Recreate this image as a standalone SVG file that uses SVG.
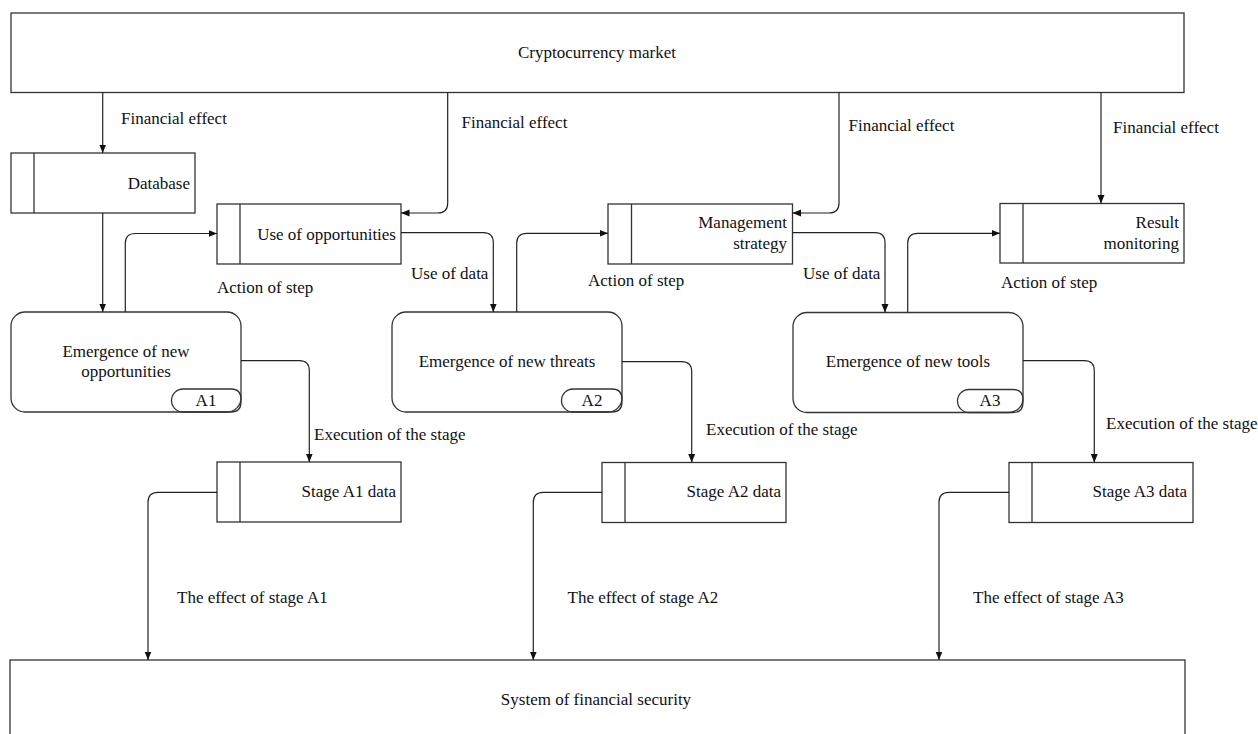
<svg xmlns="http://www.w3.org/2000/svg" width="1258" height="734" viewBox="0 0 1258 734">
<defs>
<marker id="arr" markerUnits="userSpaceOnUse" markerWidth="9" markerHeight="8" refX="8.5" refY="3.5" orient="auto">
<path d="M0,0 L8.5,3.5 L0,7 z" fill="#111"/>
</marker>
<style>
.box{fill:#fff;stroke:#333;stroke-width:1.3}
.div{stroke:#333;stroke-width:1.3;fill:none}
.t{font-family:"Liberation Serif","Times New Roman",serif;font-size:17px;fill:#111}
.r{text-anchor:end}
.c{text-anchor:middle}
.con{fill:none;stroke:#222;stroke-width:1.2;marker-end:url(#arr)}
.ln{fill:none;stroke:#222;stroke-width:1.2}
</style>
</defs>
<rect width="1258" height="734" fill="#fff"/>

<g id="market">
<rect class="box" x="11" y="13" width="1173" height="79.5"/>
<text class="t c" x="597" y="58">Cryptocurrency market</text>
</g>

<g id="database">
<rect class="box" x="11" y="153" width="184" height="60"/>
<line class="div" x1="34" y1="153" x2="34" y2="213"/>
<text class="t r" x="190" y="189">Database</text>
</g>

<g id="use-opportunities">
<rect class="box" x="217" y="204" width="184" height="60"/>
<line class="div" x1="240" y1="204" x2="240" y2="264"/>
<text class="t r" x="396" y="240">Use of opportunities</text>
</g>

<g id="management-strategy">
<rect class="box" x="608" y="204" width="184.5" height="60"/>
<line class="div" x1="631.5" y1="204" x2="631.5" y2="264"/>
<text class="t r" x="787" y="228">Management</text>
<text class="t r" x="787" y="249">strategy</text>
</g>

<g id="result-monitoring">
<rect class="box" x="1000" y="203.5" width="184" height="59.5"/>
<line class="div" x1="1023" y1="203.5" x2="1023" y2="263"/>
<text class="t r" x="1179" y="228">Result</text>
<text class="t r" x="1179" y="248.5">monitoring</text>
</g>

<g id="emergence-opportunities">
<rect class="box" x="11" y="312" width="230" height="100" rx="14"/>
<path class="div" d="M183,389 H231 Q241,389 241,399 V402 Q241,412 231,412 H183 A11.5,11.5 0 0 1 183,389 z" fill="#fff"/>
<text class="t c" x="126" y="357">Emergence of new</text>
<text class="t c" x="126" y="377">opportunities</text>
<text class="t c" x="206" y="406">A1</text>
</g>

<g id="emergence-threats">
<rect class="box" x="392" y="312" width="230" height="100" rx="14"/>
<path class="div" d="M573,389 H612 Q622,389 622,399 V402 Q622,412 612,412 H573 A11.5,11.5 0 0 1 573,389 z" fill="#fff"/>
<text class="t c" x="507" y="367">Emergence of new threats</text>
<text class="t c" x="592" y="406">A2</text>
</g>

<g id="emergence-tools">
<rect class="box" x="793" y="312.5" width="230" height="100" rx="14"/>
<path class="div" d="M969,389.5 H1013 Q1023,389.5 1023,399.5 V402.5 Q1023,412.5 1013,412.5 H969 A11.5,11.5 0 0 1 969,389.5 z" fill="#fff"/>
<text class="t c" x="908" y="367">Emergence of new tools</text>
<text class="t c" x="990" y="406">A3</text>
</g>

<g id="stage-a1">
<rect class="box" x="217" y="462" width="184" height="60"/>
<line class="div" x1="240" y1="462" x2="240" y2="522"/>
<text class="t r" x="396" y="497">Stage A1 data</text>
</g>

<g id="stage-a2">
<rect class="box" x="602" y="462.5" width="184" height="60"/>
<line class="div" x1="625" y1="462.5" x2="625" y2="522.5"/>
<text class="t r" x="781" y="497">Stage A2 data</text>
</g>

<g id="stage-a3">
<rect class="box" x="1009" y="462.5" width="184" height="60"/>
<line class="div" x1="1032" y1="462.5" x2="1032" y2="522.5"/>
<text class="t r" x="1187" y="497">Stage A3 data</text>
</g>

<g id="system">
<rect class="box" x="10" y="660" width="1175" height="100"/>
<text class="t c" x="596" y="705">System of financial security</text>
</g>

<g id="connectors">
<path class="con" d="M102.7,92.5 V153"/>
<path class="con" d="M447.7,92.5 V203 Q447.7,213 437.7,213 H401"/>
<path class="con" d="M839,92.5 V203 Q839,213 829,213 H792.5"/>
<path class="con" d="M1101,92.5 V203.5"/>
<path class="con" d="M102.7,213 V312"/>
<path class="con" d="M125.3,312 V243.5 Q125.3,233.5 135.3,233.5 H217"/>
<path class="con" d="M401,232.7 H483.3 Q493.3,232.7 493.3,242.7 V312"/>
<path class="con" d="M516.7,312 V243.3 Q516.7,233.3 526.7,233.3 H608"/>
<path class="con" d="M792.5,232.7 H875 Q885,232.7 885,242.7 V312.5"/>
<path class="con" d="M907.7,312.5 V243.3 Q907.7,233.3 917.7,233.3 H1000"/>
<path class="con" d="M241,360.7 H299.3 Q309.3,360.7 309.3,370.7 V462"/>
<path class="con" d="M622,361.7 H681.7 Q691.7,361.7 691.7,371.7 V462.5"/>
<path class="con" d="M1023,360.7 H1084.3 Q1094.3,360.7 1094.3,370.7 V462.5"/>
<path class="con" d="M217,492.3 H158 Q148,492.3 148,502.3 V660"/>
<path class="con" d="M602,492.3 H543.3 Q533.3,492.3 533.3,502.3 V660"/>
<path class="con" d="M1009,492.3 H949 Q939,492.3 939,502.3 V660"/>
<text class="t" x="121" y="124">Financial effect</text>
<text class="t" x="461.5" y="127.5">Financial effect</text>
<text class="t" x="848.5" y="130.5">Financial effect</text>
<text class="t" x="1113" y="132.5">Financial effect</text>
<text class="t" x="217" y="293">Action of step</text>
<text class="t" x="588" y="286">Action of step</text>
<text class="t" x="1001" y="288">Action of step</text>
<text class="t" x="411" y="279">Use of data</text>
<text class="t" x="803" y="279">Use of data</text>
<text class="t" x="314" y="440">Execution of the stage</text>
<text class="t" x="706" y="435">Execution of the stage</text>
<text class="t" x="1106" y="429">Execution of the stage</text>
<text class="t" x="177" y="603">The effect of stage A1</text>
<text class="t" x="567.5" y="603">The effect of stage A2</text>
<text class="t" x="973" y="603">The effect of stage A3</text>
</g>
</svg>
